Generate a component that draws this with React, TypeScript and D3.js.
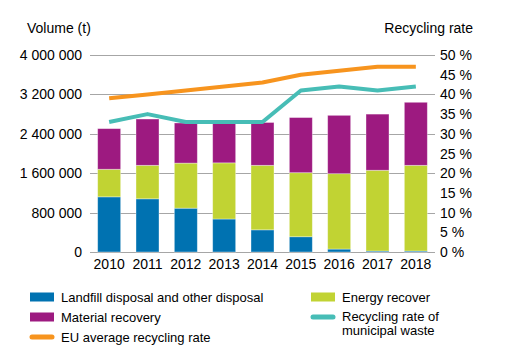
import React from 'react';
import * as d3 from 'd3';

const years = ['2010', '2011', '2012', '2013', '2014', '2015', '2016', '2017', '2018'];
const landfill = [1120000, 1080000, 890000, 670000, 450000, 310000, 60000, 20000, 20000];
const energy = [560000, 680000, 915000, 1140000, 1310000, 1300000, 1530000, 1640000, 1740000];
const material = [825000, 940000, 815000, 820000, 870000, 1120000, 1185000, 1140000, 1280000];
const euRate = [39, 40, 41, 42, 43, 45, 46, 47, 47];
const municipalRate = [33, 35, 33, 33, 33, 41, 42, 41, 42];
const volumeTicks = [0, 800000, 1600000, 2400000, 3200000, 4000000];
const rateTicks = [0, 5, 10, 15, 20, 25, 30, 35, 40, 45, 50];

const colors = {
  landfill: '#0072b1',
  energy: '#c1d333',
  material: '#9d1a80',
  eu: '#f7941e',
  municipal: '#47bdb6',
};

const font = "'Liberation Sans', Arial, sans-serif";

export default function App() {
  // set the dimensions and margins of the graph
  const width = 511,
    height = 361;
  const margin = { left: 90, right: 76, top: 55, bottom: 109 };

  const x = d3
    .scaleBand()
    .domain(years)
    .range([margin.left, width - margin.right])
    .paddingInner(0.4)
    .paddingOuter(0.2);
  const yVol = d3.scaleLinear().domain([0, 4000000]).range([height - margin.bottom, margin.top]);
  const yRate = d3.scaleLinear().domain([0, 50]).range([height - margin.bottom, margin.top]);

  const table = years.map((year, i) => ({
    year,
    landfill: landfill[i],
    energy: energy[i],
    material: material[i],
  }));
  const keys = ['landfill', 'energy', 'material'];
  const stacked = d3.stack().keys(keys)(table as any);

  const line = d3
    .line<number>()
    .x((d, i) => (x(years[i]) as number) + x.bandwidth() / 2)
    .y((d) => yRate(d));

  const fmt = (v: number) => d3.format(',')(v).replace(/,/g, ' ');

  const legend = [
    { label: ['Landfill disposal and other disposal'], color: colors.landfill, kind: 'rect', x: 30, y: 297 },
    { label: ['Energy recover'], color: colors.energy, kind: 'rect', x: 311, y: 297 },
    { label: ['Material recovery'], color: colors.material, kind: 'rect', x: 30, y: 317 },
    { label: ['Recycling rate of', 'municipal waste'], color: colors.municipal, kind: 'line', x: 311, y: 317 },
    { label: ['EU average recycling rate'], color: colors.eu, kind: 'line', x: 30, y: 337 },
  ];

  return (
    <svg width={width} height={height} style={{ position: 'absolute', left: 0, top: 0, fontFamily: font }}>
      <rect width={width} height={height} fill="#fff" />

      {/* gridlines */}
      {volumeTicks.map((t) => (
        <line
          key={t}
          x1={margin.left}
          x2={width - margin.right}
          y1={Math.round(yVol(t)) + 0.5}
          y2={Math.round(yVol(t)) + 0.5}
          stroke="#a6a6a6"
          strokeWidth={1}
        />
      ))}

      {/* stacked bars */}
      {stacked.map((s) => (
        <g key={s.key} fill={(colors as any)[s.key]}>
          {s.map((d: any, i) => (
            <rect
              key={i}
              x={x(years[i])}
              width={x.bandwidth()}
              y={yVol(d[1])}
              height={yVol(d[0]) - yVol(d[1])}
              stroke="#ffffff"
              strokeOpacity={0.45}
              strokeWidth={0.8}
            />
          ))}
        </g>
      ))}

      {/* rate lines */}
      <path d={line(euRate) || ''} fill="none" stroke={colors.eu} strokeWidth={4} strokeLinejoin="round" />
      <path d={line(municipalRate) || ''} fill="none" stroke={colors.municipal} strokeWidth={4} strokeLinejoin="round" />

      {/* left axis labels */}
      {volumeTicks.map((t) => (
        <text key={t} x={82} y={yVol(t) + 5} textAnchor="end" fontSize={14} fill="#000">
          {fmt(t)}
        </text>
      ))}
      {/* right axis labels */}
      {rateTicks.map((t) => (
        <text key={t} x={440} y={yRate(t) + 5} textAnchor="start" fontSize={14} fill="#000">
          {t + ' %'}
        </text>
      ))}
      {/* x axis labels */}
      {years.map((yr) => (
        <text key={yr} x={(x(yr) as number) + x.bandwidth() / 2} y={269} textAnchor="middle" fontSize={14} fill="#000">
          {yr}
        </text>
      ))}

      <text x={27} y={33} fontSize={14} fill="#000">
        Volume (t)
      </text>
      <text x={473} y={33} fontSize={14} textAnchor="end" fill="#000">
        Recycling rate
      </text>

      {/* legend */}
      {legend.map((l) => (
        <g key={l.label[0]}>
          {l.kind === 'rect' ? (
            <rect x={l.x} y={l.y - 4.5} width={24} height={9} fill={l.color} />
          ) : (
            <line x1={l.x + 2} x2={l.x + 22} y1={l.y} y2={l.y} stroke={l.color} strokeWidth={5} strokeLinecap="round" />
          )}
          {l.label.map((t, j) => (
            <text key={t} x={l.x + 31} y={l.y + 4.5 + j * 14 - (l.label.length > 1 ? 1 : 0)} fontSize={13} fill="#000">
              {t}
            </text>
          ))}
        </g>
      ))}
    </svg>
  );
}
